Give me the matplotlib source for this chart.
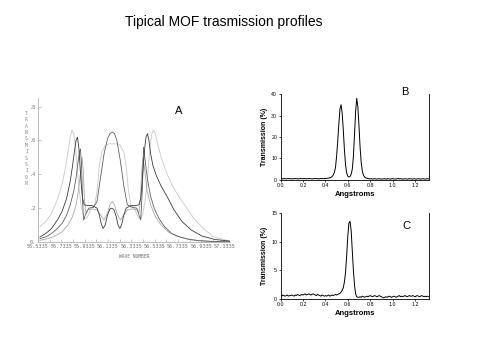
import numpy as np
import matplotlib
matplotlib.use("Agg")
import matplotlib.pyplot as plt

plt.rcParams['font.family'] = ['Liberation Sans', 'DejaVu Sans']

# ---- panel A: simulated transmission vs wave number (4 profiles)
x_a1 = [55.55, 55.60, 55.65, 55.70, 55.74, 55.77, 55.79, 55.81, 55.825, 55.84,
        55.855, 55.87, 55.885, 55.90, 55.92, 55.94, 55.96, 55.99, 56.02, 56.04,
        56.06, 56.08, 56.11, 56.14, 56.175, 56.21, 56.24, 56.27, 56.29, 56.31,
        56.33, 56.36, 56.39, 56.41, 56.43, 56.45, 56.465, 56.48, 56.495, 56.51,
        56.525, 56.54, 56.56, 56.59, 56.63, 56.68, 56.74, 56.80, 56.87, 56.95,
        57.04, 57.18]
y_a1 = [0.09, 0.12, 0.17, 0.25, 0.34, 0.44, 0.53, 0.62, 0.66, 0.64,
        0.56, 0.44, 0.32, 0.23, 0.16, 0.135, 0.15, 0.20, 0.22, 0.30,
        0.45, 0.53, 0.57, 0.58, 0.58, 0.58, 0.57, 0.53, 0.45, 0.30,
        0.22, 0.20, 0.15, 0.135, 0.16, 0.23, 0.32, 0.44, 0.56, 0.64,
        0.66, 0.64, 0.58, 0.50, 0.42, 0.34, 0.27, 0.21, 0.14, 0.08,
        0.03, 0.005]

x_a2 = [55.55, 55.60, 55.65, 55.70, 55.74, 55.78, 55.81, 55.83, 55.845, 55.86,
        55.872, 55.885, 55.90, 55.915, 55.93, 55.96, 56.00, 56.04, 56.06, 56.075,
        56.092, 56.11, 56.13, 56.15, 56.168, 56.185, 56.205, 56.22, 56.236, 56.25,
        56.27, 56.29, 56.33, 56.37, 56.40, 56.415, 56.43, 56.445, 56.46, 56.473,
        56.485, 56.50, 56.52, 56.55, 56.59, 56.64, 56.70, 56.77, 56.85, 56.94,
        57.05, 57.18]
y_a2 = [0.03, 0.05, 0.08, 0.13, 0.18, 0.26, 0.36, 0.45, 0.53, 0.60,
        0.62, 0.55, 0.38, 0.26, 0.22, 0.215, 0.215, 0.20, 0.16, 0.11,
        0.08, 0.10, 0.16, 0.195, 0.20, 0.19, 0.15, 0.10, 0.08, 0.10,
        0.16, 0.20, 0.215, 0.215, 0.22, 0.26, 0.38, 0.53, 0.62, 0.64,
        0.60, 0.52, 0.45, 0.39, 0.33, 0.27, 0.19, 0.12, 0.07, 0.035,
        0.015, 0.005]

x_a3 = [55.55, 55.60, 55.65, 55.70, 55.74, 55.78, 55.81, 55.84, 55.86, 55.875,
        55.888, 55.898, 55.907, 55.916, 55.925, 55.94, 55.97, 56.01, 56.04, 56.07,
        56.10, 56.13, 56.15, 56.17, 56.19, 56.21, 56.24, 56.27, 56.30, 56.34,
        56.38, 56.40, 56.415, 56.428, 56.439, 56.45, 56.463, 56.48, 56.50, 56.53,
        56.57, 56.62, 56.68, 56.75, 56.83, 56.92, 57.03, 57.18]
y_a3 = [0.02, 0.03, 0.05, 0.08, 0.11, 0.16, 0.22, 0.30, 0.38, 0.46,
        0.53, 0.55, 0.45, 0.24, 0.13, 0.16, 0.20, 0.205, 0.24, 0.38,
        0.52, 0.61, 0.64, 0.65, 0.64, 0.60, 0.48, 0.33, 0.22, 0.205,
        0.20, 0.16, 0.13, 0.30, 0.56, 0.50, 0.42, 0.34, 0.27, 0.20,
        0.14, 0.09, 0.05, 0.03, 0.015, 0.007, 0.003, 0.001]

x_a4 = [55.55, 55.62, 55.68, 55.74, 55.79, 55.83, 55.86, 55.88, 55.90, 55.912,
        55.922, 55.932, 55.945, 55.96, 56.00, 56.04, 56.07, 56.10, 56.13, 56.15,
        56.17, 56.19, 56.21, 56.24, 56.27, 56.30, 56.34, 56.385, 56.40, 56.413,
        56.423, 56.435, 56.45, 56.47, 56.50, 56.54, 56.59, 56.65, 56.72, 56.80,
        56.90, 57.02, 57.18]
y_a4 = [0.01, 0.02, 0.035, 0.06, 0.10, 0.15, 0.22, 0.30, 0.42, 0.50,
        0.42, 0.25, 0.17, 0.19, 0.195, 0.19, 0.16, 0.13, 0.17, 0.22,
        0.24, 0.22, 0.17, 0.13, 0.16, 0.19, 0.195, 0.19, 0.17, 0.25,
        0.42, 0.50, 0.42, 0.30, 0.22, 0.15, 0.10, 0.06, 0.035, 0.02,
        0.01, 0.004, 0.001]

a_xticks = [55.5335, 55.7335, 55.9335, 56.1335, 56.3335, 56.5335, 56.7335, 56.9335, 57.1335]
a_yticks = [0, 0.2, 0.4, 0.6, 0.8]
a_yticklabels = ["0.", ".2", ".4", ".6", ".8"]

# ---- panels B and C: measured transmission (%) vs Angstroms, 0.01 steps
x_bc = np.round(np.arange(0, 1.325, 0.01), 2)
y_b = [0.5, 0.6, 0.5, 0.7, 0.6, 0.5, 0.6, 0.7, 0.6, 0.5,
       0.6, 0.5, 0.6, 0.7, 0.6, 0.6, 0.5, 0.6, 0.7, 0.6,
       0.6, 0.7, 0.6, 0.5, 0.6, 0.6, 0.7, 0.6, 0.5, 0.6,
       0.6, 0.7, 0.6, 0.6, 0.5, 0.6, 0.7, 0.6, 0.6, 0.7,
       0.7, 0.8, 0.8, 0.9, 1.0, 1.2, 1.6, 2.3, 3.5, 5.8,
       11, 18, 26, 33, 35, 31, 23, 14, 7, 3.2,
       1.8, 1.4, 1.6, 2.6, 5, 11, 21, 32, 38, 34,
       25, 15, 8, 4, 2.2, 1.4, 1.0, 0.8, 0.7, 0.6,
       0.5, 0.6, 0.4, 0.5, 0.6, 0.5, 0.4, 0.5, 0.6, 0.5,
       0.4, 0.5, 0.5, 0.6, 0.4, 0.5, 0.6, 0.5, 0.4, 0.5,
       0.6, 0.5, 0.5, 0.4, 0.6, 0.7, 0.5, 0.6, 0.5, 0.4,
       0.5, 0.6, 0.5, 0.4, 0.5, 0.6, 0.5, 0.5, 0.4, 0.6,
       0.5, 0.4, 0.5, 0.6, 0.5, 0.4, 0.5, 0.6, 0.5, 0.4,
       0.5, 0.6, 0.5]
y_c = [0.6, 0.5, 0.7, 0.6, 0.5, 0.6, 0.7, 0.5, 0.6, 0.6,
       0.7, 0.6, 0.5, 0.7, 0.6, 0.8, 0.7, 0.6, 0.7, 0.8,
       0.7, 0.8, 0.9, 0.7, 0.8, 0.9, 0.8, 0.7, 0.8, 0.9,
       0.8, 0.7, 0.6, 0.8, 0.7, 0.6, 0.5, 0.7, 0.6, 0.5,
       0.6, 0.5, 0.6, 0.7, 0.5, 0.6, 0.7, 0.6, 0.7, 0.8,
       0.7, 0.8, 0.9, 1.0, 1.2, 1.5, 2.0, 3.0, 4.7, 7.6,
       11, 13.3, 13.6, 12, 8.5, 5, 2.4, 0.9, 0.4, 0.3,
       0.3, 0.4, 0.3, 0.5, 0.4, 0.3, 0.4, 0.5, 0.4, 0.5,
       0.6, 0.5, 0.4, 0.5, 0.6, 0.5, 0.4, 0.5, 0.6, 0.5,
       0.4, 0.3, 0.2, 0.3, 0.4, 0.3, 0.4, 0.5, 0.4, 0.3,
       0.4, 0.5, 0.4, 0.3, 0.4, 0.5, 0.6, 0.4, 0.5, 0.4,
       0.5, 0.6, 0.5, 0.4, 0.5, 0.6, 0.5, 0.5, 0.6, 0.5,
       0.4, 0.5, 0.6, 0.5, 0.4, 0.5, 0.6, 0.5, 0.4, 0.5,
       0.4, 0.5, 0.4]
bc_xticks = [0.0, 0.2, 0.4, 0.6, 0.8, 1.0, 1.2]

fig = plt.figure(figsize=(4.78, 3.62), dpi=100)
fig.text(0.468, 0.94, "Tipical MOF trasmission profiles", ha='center', va='center', fontsize=10)

# panel A
axa = fig.add_axes([0.0795, 0.3315, 0.4015, 0.3975])
for xs, ys, col in [(x_a1, y_a1, '#c8c8c8'), (x_a4, y_a4, '#a8a8a8'),
                    (x_a3, y_a3, '#606060'), (x_a2, y_a2, '#3a3a3a')]:
    axa.plot(xs, ys, color=col, lw=0.6)
axa.set_xlim(55.55, 57.18)
axa.set_ylim(0, 0.85)
for s in ['top', 'right']:
    axa.spines[s].set_visible(False)
for s in ['left', 'bottom']:
    axa.spines[s].set_color('#b0b0b0')
    axa.spines[s].set_linewidth(0.6)
axa.set_xticks(a_xticks)
axa.set_xticklabels([f"{v:.4f}" for v in a_xticks], family='DejaVu Sans Mono', fontsize=3.7, color='#707070')
axa.set_xticks(np.arange(55.6335, 57.2, 0.2), minor=True)
axa.set_yticks(a_yticks)
axa.set_yticklabels(a_yticklabels, family='DejaVu Sans Mono', fontsize=3.7, color='#707070')
axa.tick_params(which='both', direction='in', length=2, width=0.5, color='#b0b0b0', pad=1.5)
axa.text(0.5, -0.10, "WAVE NUMBER", transform=axa.transAxes, ha='center', va='center',
         family='DejaVu Sans Mono', fontsize=3.3, color='#707070')
axa.text(-0.06, 0.65, "\n".join("TRANSMISSION"), transform=axa.transAxes, ha='center', va='center',
         family='DejaVu Sans Mono', fontsize=3.3, color='#808080', linespacing=1.35)
fig.text(179 / 478, 1 - 111 / 362, "A", ha='center', va='center', fontsize=8)


def small_panel(rect, ys, ymax, yticks, letter, lpos):
    ax = fig.add_axes(rect)
    ax.plot(x_bc, ys, color='black', lw=0.7)
    ax.set_xlim(0, 1.325)
    ax.set_ylim(0, ymax)
    ax.spines['top'].set_visible(False)
    for s in ['left', 'bottom', 'right']:
        ax.spines[s].set_linewidth(0.6)
    ax.set_xticks(bc_xticks)
    ax.set_xticklabels([f"{v:.1f}" for v in bc_xticks], fontsize=3.8)
    ax.set_yticks(yticks)
    ax.set_yticklabels([str(v) for v in yticks], fontsize=3.8)
    ax.tick_params(direction='out', length=1.5, width=0.5, pad=1)
    ax.set_xlabel("Angstroms", fontsize=5.5, fontweight='bold', labelpad=2)
    ax.set_ylabel("Transmission (%)", fontsize=5, fontweight='bold', labelpad=2)
    fig.text(lpos[0] / 478, 1 - lpos[1] / 362, letter, ha='center', va='center', fontsize=8)
    return ax


small_panel([0.587, 0.5028, 0.3105, 0.2375], y_b, 40, [0, 10, 20, 30, 40], "B", (405, 92))
small_panel([0.587, 0.174, 0.3105, 0.2368], y_c, 15, [0, 5, 10, 15], "C", (406, 226))

fig.savefig("out.png", dpi=100)
